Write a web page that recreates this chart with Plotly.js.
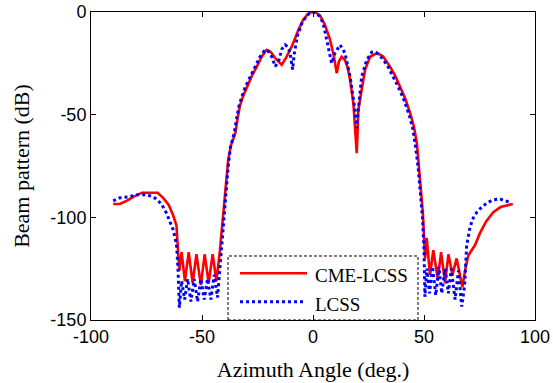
<!DOCTYPE html>
<html>
<head>
<meta charset="utf-8">
<script src="https://cdn.plot.ly/plotly-3.0.1.min.js"></script>
<style>html,body{margin:0;padding:0;background:#fff;}#chart{width:553px;height:383px;}</style>
</head>
<body>
<div id="chart"></div>
<script>
// CME-LCSS (red, solid)
const angleCME = [-90,-87,-84,-81,-77,-73,-70,-67.5,-65,-63,-61.5,-60.7,-60.2,-59.2,-57.7,-56,-54.2,-52.5,-50.5,-48.8,-47,-45.2,-43.5,-42,-41,-40.3,-39.6,-38.2,-37,-35,-34,-33,-31.5,-29.8,-27.5,-25.3,-23,-20.9,-19,-17,-14.1,-12,-9.6,-6.6,-4.5,-2.5,-1,0,1.5,3.2,5.4,7.7,9.5,10.7,11.7,12.9,14.4,15.6,16.7,18.2,19.2,19.7,20.1,20.4,21.9,23.5,25.7,28.8,31.5,34.7,37,39,41.5,43.7,45.5,46.8,48.2,49.5,50.1,50.5,51.2,52.7,54.2,56.2,57.7,59.5,61,62.8,64.7,67.3,68.8,70,73,75.2,78,81.2,84.5,87.5,90];
const beamCME = [-93.5,-93.5,-92,-90,-88,-88,-88,-90.5,-94,-99,-104,-118,-126,-117,-131,-117,-132,-118,-133,-118,-132,-118,-131,-117,-106,-98,-90,-72,-65,-59,-52,-46,-41,-36.4,-31,-26.6,-21.5,-18.5,-19.5,-22.5,-25.8,-22,-16.9,-8.8,-4,-1.2,-0.2,0,-0.4,-1.8,-6.3,-13.6,-22,-29.9,-24,-21.8,-23.4,-27,-33,-44.5,-58,-68.8,-58,-47.7,-38,-28,-21.8,-20,-21.5,-26.6,-31,-36,-42,-49,-56,-64,-80,-98,-112,-120,-110,-128,-116,-130,-117,-132,-118,-128,-120,-134,-124,-118.5,-113.5,-107.7,-102,-97.5,-95,-94,-93.5];

// LCSS (blue, dotted)
const angleLCSS = [-90,-87,-83,-79,-75,-72,-70,-68,-66,-63,-61.5,-60.8,-60.2,-59.2,-57.8,-56.5,-55,-53.5,-52,-50.5,-49,-47.5,-46,-44.5,-43,-42,-41.2,-40.2,-39.2,-38.2,-37.2,-35.5,-34.4,-33.4,-32,-30.3,-28,-26,-24,-22,-20.5,-18.6,-17,-15.5,-14,-12.6,-11.3,-10.3,-9.2,-8.4,-7,-5,-3,-1.5,0,1.5,3,4.6,6.9,8.4,9.9,12.2,14.4,16.7,18.9,19.7,20.4,21.9,24.2,26.5,28.5,30,33.5,36,38.2,40.7,43,44.8,46,47.4,48.5,49.3,50,50.4,51.3,52.5,53.8,55.3,56.7,58,59.5,61,62.3,64,65.5,67,68.3,69.2,70.5,71.8,73.8,76,78.4,81,84.2,86.5,88.7,90];
const beamLCSS = [-92,-90.5,-90,-89,-89,-90,-91.5,-94,-98,-106,-113,-125,-144,-131,-140,-130,-141,-130,-141,-130,-140,-130,-140,-128,-139,-126,-115,-100,-88,-75,-66,-59,-52,-46,-41,-36,-31,-26.5,-22,-19,-18.5,-21.8,-26.5,-24,-18,-16,-17,-20,-28,-20,-11.5,-5.5,-2,-0.5,0,-0.5,-2.2,-5.5,-16.9,-25,-20,-16,-20,-31.5,-47.7,-56.5,-47.7,-31.5,-23.4,-19.5,-19.8,-21,-26,-31,-36,-42,-49,-56,-64,-76,-90,-100,-115,-138.7,-125,-137,-124,-138,-124,-137,-125,-137,-125,-140,-126,-143.5,-133,-114,-106,-101,-97.5,-95,-93,-91.5,-91,-92,-92.5];

const seriesNames = ['CME-LCSS', 'LCSS'];
const xTicks = [-100, -50, 0, 50, 100];
const yTicks = [-150, -100, -50, 0];

const traces = [
  {x: angleCME, y: beamCME, type: 'scatter', mode: 'lines', name: seriesNames[0],
   line: {color: '#ff0000', width: 2.6}},
  {x: angleLCSS, y: beamLCSS, type: 'scatter', mode: 'lines', name: seriesNames[1],
   line: {color: '#0000ff', width: 3, dash: 'dot'}}
];

const axisCommon = {
  showgrid: false, zeroline: false, showline: true, linecolor: '#000', linewidth: 1,
  mirror: 'ticks', ticks: 'inside', ticklen: 5, tickcolor: '#000', tickwidth: 1,
  tickfont: {family: 'Liberation Sans, Arial, sans-serif', size: 18, color: '#000'}
};

const layout = {
  width: 553, height: 383,
  margin: {l: 91, r: 18, t: 12, b: 63},
  paper_bgcolor: '#fff', plot_bgcolor: '#fff',
  showlegend: false,
  xaxis: Object.assign({}, axisCommon, {
    range: [-100, 100], tickvals: xTicks, ticktext: xTicks.map(String),
    title: {text: 'Azimuth Angle (deg.)', font: {family: 'Liberation Serif, Times New Roman, serif', size: 22, color: '#000'}, standoff: 16}
  }),
  yaxis: Object.assign({}, axisCommon, {
    range: [-150, 0], tickvals: yTicks, ticktext: yTicks.map(String),
    title: {text: 'Beam pattern (dB)', font: {family: 'Liberation Serif, Times New Roman, serif', size: 22, color: '#000'}, standoff: 14}
  }),
  shapes: [
    {type: 'rect', xref: 'paper', yref: 'paper', x0: 0.3086, x1: 0.7365, y0: 0, y1: 0.2078,
     line: {color: '#000', width: 1, dash: '3px,2px'}, fillcolor: 'rgba(255,255,255,0)'},
    {type: 'line', xref: 'paper', yref: 'paper', x0: 0.3356, x1: 0.4865, y0: 0.1516, y1: 0.1516,
     line: {color: '#ff0000', width: 2.6}},
    {type: 'line', xref: 'paper', yref: 'paper', x0: 0.3356, x1: 0.482, y0: 0.0594, y1: 0.0594,
     line: {color: '#0000ff', width: 3, dash: 'dot'}}
  ],
  annotations: [
    {xref: 'paper', yref: 'paper', x: 0.5, y: 0.143, xanchor: 'left', yanchor: 'middle', showarrow: false,
     text: seriesNames[0], font: {family: 'Liberation Serif, Times New Roman, serif', size: 19, color: '#000'}},
    {xref: 'paper', yref: 'paper', x: 0.5, y: 0.05, xanchor: 'left', yanchor: 'middle', showarrow: false,
     text: seriesNames[1], font: {family: 'Liberation Serif, Times New Roman, serif', size: 19, color: '#000'}}
  ]
};

Plotly.newPlot('chart', traces, layout, {displayModeBar: false, staticPlot: true});
</script>
</body>
</html>
